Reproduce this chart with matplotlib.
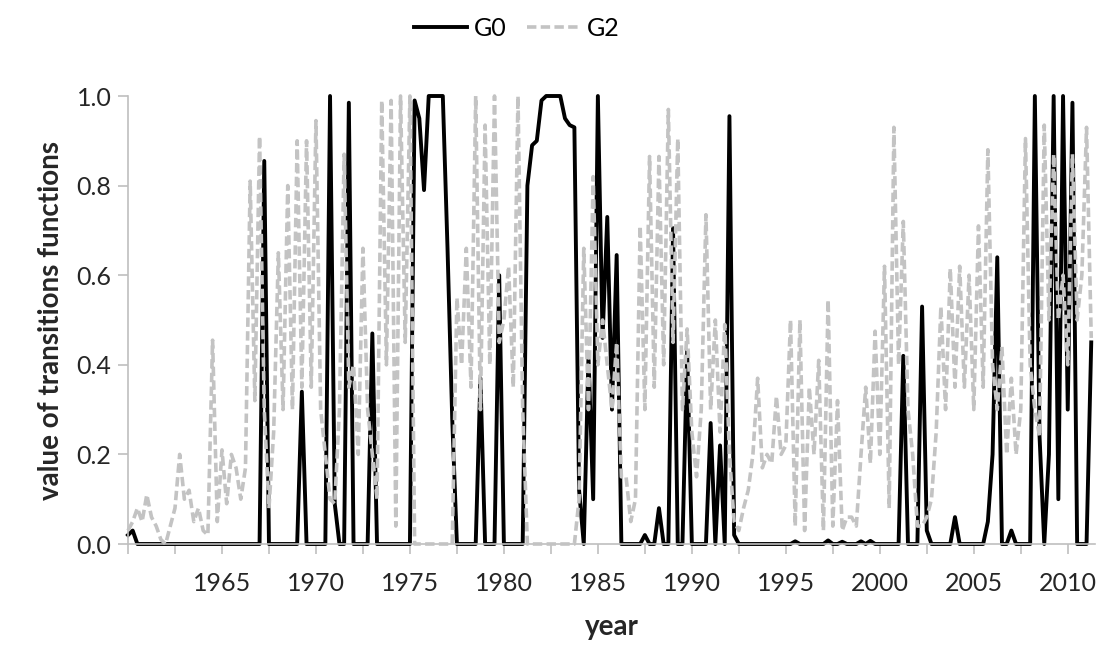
import matplotlib
matplotlib.use("Agg")
import matplotlib.pyplot as plt
import numpy as np

# quarterly data, 1960Q1 .. 2011Q2
start_year = 1960
g0 = [
    0.02, 0.03, 0, 0, 0, 0, 0, 0, 0, 0,
    0, 0, 0, 0, 0, 0, 0, 0, 0, 0,
    0, 0, 0, 0, 0, 0, 0, 0, 0, 0.855,
    0, 0, 0, 0, 0, 0, 0, 0.34, 0, 0,
    0, 0, 0, 1.0, 0.09, 0, 0, 0.985, 0, 0,
    0, 0, 0.47, 0, 0, 0, 0, 0, 0, 0,
    0, 0.99, 0.95, 0.79, 1.0, 1.0, 1.0, 1.0, 0.66, 0.28,
    0, 0, 0, 0, 0, 0.37, 0, 0, 0, 0.6,
    0, 0, 0, 0, 0, 0.8, 0.89, 0.9, 0.99, 1.0,
    1.0, 1.0, 1.0, 0.95, 0.935, 0.93, 0.12, 0, 0.42, 0.1,
    1.0, 0.46, 0.73, 0.3, 0.645, 0, 0, 0, 0, 0,
    0.02, 0, 0, 0.08, 0, 0, 0.705, 0, 0, 0.43,
    0, 0, 0, 0, 0.27, 0, 0.22, 0, 0.955, 0.02,
    0, 0, 0, 0, 0, 0, 0, 0, 0, 0,
    0, 0, 0.006, 0, 0, 0, 0, 0, 0, 0.008,
    0, 0, 0.005, 0, 0, 0, 0.006, 0, 0.007, 0,
    0, 0, 0, 0, 0, 0.42, 0, 0, 0, 0.53,
    0.03, 0, 0, 0, 0, 0, 0.06, 0, 0, 0,
    0, 0, 0, 0.05, 0.2, 0.64, 0, 0, 0.03, 0,
    0, 0, 0, 1.0, 0.24, 0, 0.2, 1.0, 0.1, 1.0,
    0.3, 0.985, 0, 0, 0, 0.45,
]
g2 = [
    0.03, 0.05, 0.08, 0.05, 0.11, 0.06, 0.04, 0.01, 0.0, 0.04,
    0.08, 0.2, 0.1, 0.12, 0.05, 0.08, 0.03, 0.02, 0.455, 0.05,
    0.21, 0.09, 0.2, 0.17, 0.1, 0.17, 0.81, 0.32, 0.91, 0.3,
    0.08, 0.25, 0.65, 0.3, 0.8, 0.3, 0.9, 0.35, 0.9, 0.35,
    0.945, 0.3, 0.2, 0.1, 0.09, 0.3, 0.87, 0.35, 0.4, 0.2,
    0.66, 0.3, 0.2, 0.1, 0.99, 0.4, 0.99, 0.04, 1.0, 0.45,
    1.0, 0, 0, 0, 0, 0, 0, 0, 0, 0,
    0.55, 0.4, 0.66, 0.35, 1.0, 0.3, 0.935, 0.4, 1.0, 0.45,
    0.5, 0.62, 0.35, 1.0, 0.3, 0, 0, 0, 0, 0,
    0, 0, 0, 0, 0, 0, 0.1, 0.66, 0.3, 0.82,
    0.4, 0.5, 0.4, 0.3, 0.45, 0.15, 0.15, 0.05, 0.1, 0.71,
    0.3, 0.865, 0.35, 0.865, 0.4, 0.97, 0.45, 0.905, 0.3, 0.48,
    0.25, 0.15, 0.3, 0.735, 0.3, 0.5, 0.25, 0.49, 0.2, 0.05,
    0.03, 0.08, 0.12, 0.2, 0.37, 0.17, 0.2, 0.18, 0.33, 0.2,
    0.22, 0.5, 0.04, 0.5, 0.03, 0.35, 0.2, 0.41, 0.03, 0.545,
    0.04, 0.32, 0.03, 0.06, 0.06, 0.04, 0.2, 0.35, 0.18, 0.475,
    0.2, 0.62, 0.08, 0.93, 0.4, 0.72, 0.3, 0.2, 0.04, 0.04,
    0.06, 0.1, 0.25, 0.53, 0.3, 0.615, 0.35, 0.62, 0.35, 0.6,
    0.3, 0.71, 0.35, 0.88, 0.4, 0.3, 0.44, 0.2, 0.37, 0.2,
    0.3, 0.905, 0.4, 0.3, 0.24, 0.935, 0.5, 0.87, 0.5, 0.6,
    0.4, 0.87, 0.5, 0.6, 0.93, 0.46,
]
tick_years = [1960 + 2.5 * k for k in range(21)]
label_years = [1965, 1970, 1975, 1980, 1985, 1990, 1995, 2000, 2005, 2010]

years = start_year + np.arange(len(g0)) / 4.0

plt.rcParams['font.family'] = ['Lato', 'DejaVu Sans']

fig = plt.figure(figsize=(11.09, 6.55), dpi=100)
ax = fig.add_axes([128 / 1109, 1 - 544 / 655, (1095 - 128) / 1109, (544 - 96) / 655])

ax.plot(years, g0, color='black', lw=2.8, label='G0', zorder=2, clip_on=False)
ax.plot(years, g2, color='#c3c3c3', lw=2.6, ls=(0, (2.6, 1.2)), label='G2', zorder=3, clip_on=False)

ax.set_xlim(1960, 2011.45)
ax.set_ylim(0, 1.0)
ax.set_xticks(tick_years)
ax.set_xticklabels([str(int(t)) if t in label_years else '' for t in tick_years])
ax.set_yticks([0, 0.2, 0.4, 0.6, 0.8, 1.0])
ax.set_yticklabels(['0.0', '0.2', '0.4', '0.6', '0.8', '1.0'])

for s in ['top', 'right']:
    ax.spines[s].set_visible(False)
for s in ['left', 'bottom']:
    ax.spines[s].set_color('#bfbfbf')
    ax.spines[s].set_linewidth(1.2)
ax.tick_params(axis='both', colors='#bfbfbf', length=7, width=1.2, labelcolor='#262626', labelsize=18)
ax.tick_params(axis='x', pad=13)
ax.tick_params(axis='y', pad=5)

ax.set_xlabel('year', fontsize=20, fontweight='bold', color='#262626', labelpad=14)
ax.set_ylabel('value of transitions functions', fontsize=20, fontweight='bold', color='#262626', labelpad=9)

# legend above the plot
fig.legend(loc='center', bbox_to_anchor=(517 / 1109, 1 - 28 / 655), ncol=2, frameon=False,
           fontsize=18, handlelength=2.1, handletextpad=0.3, columnspacing=0.8)

fig.savefig('out.png', dpi=100)
